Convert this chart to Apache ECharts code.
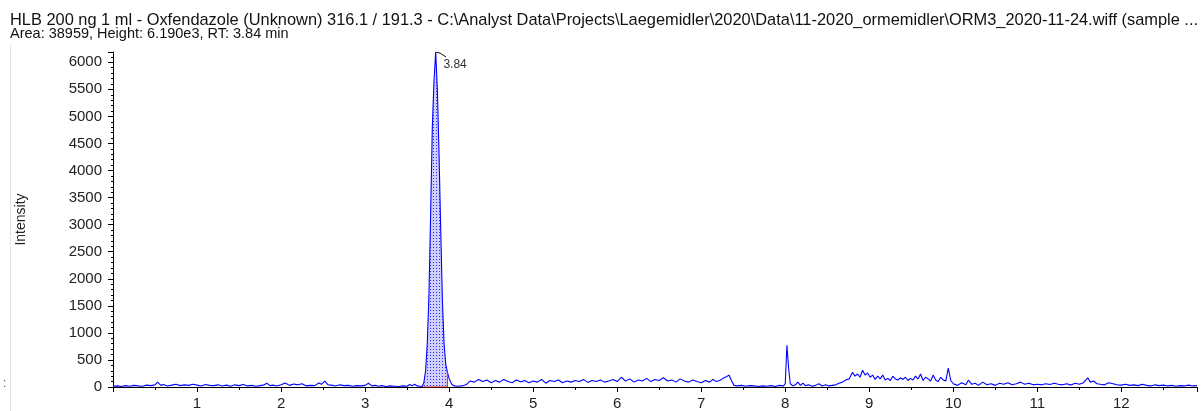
<!DOCTYPE html>
<html>
<head>
<meta charset="utf-8">
<script src="https://cdn.jsdelivr.net/npm/echarts@6/dist/echarts.min.js"></script>
<style>
  html, body { margin: 0; padding: 0; background: #fff; }
  #main { width: 1201px; height: 411px; }
</style>
</head>
<body>
<div id="main"></div>
<script>
// 标题
const titleLines = [
  'HLB 200 ng 1 ml - Oxfendazole (Unknown) 316.1 / 191.3 - C:\\Analyst Data\\Projects\\Laegemidler\\2020\\Data\\11-2020_ormemidler\\ORM3_2020-11-24.wiff (sample ...',
  'Area: 38959, Height: 6.190e3, RT: 3.84 min'
];
const yName = 'Intensity';
const rtLabel = '3.84';

// 色谱数据 [保留时间 min, 强度]
const trace = [
  [0.00, 15], [0.05, 20], [0.10, 10], [0.15, 25], [0.20, 15], [0.25, 30], [0.30, 20], [0.35, 15],
  [0.40, 35], [0.45, 25], [0.50, 40], [0.53, 90], [0.57, 30], [0.60, 45], [0.65, 20], [0.70, 35],
  [0.75, 50], [0.80, 25], [0.85, 40], [0.90, 30], [0.95, 50], [1.00, 35], [1.05, 20], [1.10, 45],
  [1.15, 30], [1.20, 25], [1.25, 40], [1.30, 20], [1.35, 35], [1.40, 15], [1.45, 40], [1.50, 25],
  [1.55, 45], [1.60, 20], [1.65, 30], [1.70, 15], [1.75, 25], [1.80, 40], [1.83, 70], [1.87, 25],
  [1.90, 35], [1.95, 20], [2.00, 40], [2.05, 75], [2.10, 30], [2.15, 55], [2.20, 40], [2.25, 60],
  [2.30, 20], [2.35, 30], [2.40, 25], [2.45, 75], [2.48, 50], [2.52, 110], [2.56, 40], [2.60, 35],
  [2.65, 20], [2.70, 40], [2.75, 25], [2.80, 30], [2.85, 15], [2.90, 25], [2.95, 20], [3.00, 30],
  [3.04, 70], [3.08, 20], [3.12, 30], [3.16, 15], [3.20, 25], [3.25, 10], [3.30, 20], [3.35, 15],
  [3.40, 10], [3.45, 20], [3.50, 15], [3.53, 45], [3.56, 25], [3.59, 50], [3.62, 20], [3.65, 15],
  [3.68, 10], [3.70, 90], [3.72, 300], [3.74, 800], [3.76, 1700], [3.78, 3200], [3.80, 4800],
  [3.82, 5650], [3.84, 6190], [3.86, 5500], [3.88, 4300], [3.90, 2900], [3.92, 1600], [3.94, 800],
  [3.96, 420], [3.98, 270], [4.00, 160], [4.03, 50], [4.06, 20], [4.10, 15], [4.15, 20], [4.20, 40],
  [4.25, 110], [4.30, 90], [4.35, 140], [4.40, 100], [4.45, 130], [4.50, 80], [4.55, 120], [4.60, 90],
  [4.65, 140], [4.70, 100], [4.75, 80], [4.80, 130], [4.85, 95], [4.90, 120], [4.95, 80], [5.00, 110],
  [5.05, 90], [5.10, 140], [5.15, 70], [5.20, 120], [5.25, 100], [5.30, 130], [5.35, 80], [5.40, 110],
  [5.45, 90], [5.50, 120], [5.55, 100], [5.60, 140], [5.65, 85], [5.70, 120], [5.75, 100], [5.80, 130],
  [5.85, 90], [5.90, 110], [5.95, 140], [6.00, 100], [6.05, 180], [6.10, 110], [6.15, 150], [6.20, 90],
  [6.25, 130], [6.30, 110], [6.35, 160], [6.40, 100], [6.45, 140], [6.50, 120], [6.55, 170], [6.60, 110],
  [6.65, 130], [6.70, 90], [6.75, 150], [6.80, 110], [6.85, 90], [6.90, 130], [6.95, 100], [7.00, 80],
  [7.05, 120], [7.10, 90], [7.14, 140], [7.18, 100], [7.22, 120], [7.26, 160], [7.30, 190], [7.33, 220],
  [7.36, 120], [7.39, 30], [7.43, 20], [7.48, 30], [7.53, 15], [7.58, 25], [7.63, 20], [7.68, 10],
  [7.73, 20], [7.78, 15], [7.83, 25], [7.88, 10], [7.93, 30], [7.98, 20], [8.00, 60], [8.02, 770],
  [8.04, 350], [8.06, 60], [8.09, 20], [8.12, 40], [8.15, 90], [8.18, 30], [8.21, 70], [8.24, 25],
  [8.28, 40], [8.32, 15], [8.36, 30], [8.40, 60], [8.44, 20], [8.48, 40], [8.52, 20], [8.56, 30],
  [8.60, 40], [8.64, 70], [8.68, 90], [8.72, 130], [8.76, 150], [8.80, 270], [8.83, 200], [8.86, 240],
  [8.89, 180], [8.92, 310], [8.95, 220], [8.98, 260], [9.01, 180], [9.04, 220], [9.07, 140], [9.10, 200],
  [9.13, 150], [9.16, 220], [9.19, 130], [9.22, 160], [9.25, 120], [9.28, 200], [9.31, 150], [9.34, 130],
  [9.37, 170], [9.40, 140], [9.43, 180], [9.46, 120], [9.49, 160], [9.52, 130], [9.55, 200], [9.58, 150],
  [9.61, 240], [9.64, 120], [9.67, 180], [9.70, 150], [9.73, 110], [9.76, 220], [9.79, 130], [9.82, 100],
  [9.85, 180], [9.88, 130], [9.91, 110], [9.94, 350], [9.97, 120], [10.00, 60], [10.05, 30], [10.10, 80],
  [10.15, 40], [10.18, 130], [10.22, 50], [10.26, 70], [10.30, 30], [10.35, 90], [10.40, 40], [10.45, 60],
  [10.50, 30], [10.55, 70], [10.60, 50], [10.65, 80], [10.70, 40], [10.75, 60], [10.80, 90], [10.85, 50],
  [10.90, 70], [10.95, 40], [11.00, 50], [11.05, 40], [11.10, 60], [11.15, 45], [11.20, 70], [11.25, 50],
  [11.30, 40], [11.35, 60], [11.40, 35], [11.45, 70], [11.50, 50], [11.55, 80], [11.60, 170], [11.63, 90],
  [11.67, 110], [11.71, 60], [11.75, 50], [11.80, 40], [11.85, 80], [11.90, 60], [11.95, 40], [12.00, 35],
  [12.05, 50], [12.10, 30], [12.15, 40], [12.20, 25], [12.25, 50], [12.30, 30], [12.35, 20], [12.40, 40],
  [12.45, 25], [12.50, 35], [12.55, 20], [12.60, 30], [12.65, 15], [12.70, 25], [12.75, 20], [12.80, 35],
  [12.85, 20], [12.90, 25]
];

// 积分区间和峰标注
const peakStart = 3.68;
const peakEnd = 3.98;
const peakEndHeight = 270;
const apexLeader = [[3.84, 6190], [3.893, 6169], [3.964, 6096]];

const xMax = 12.9;
const yMax = 6190;

// 峰下点阵填充
const dots = document.createElement('canvas');
dots.width = 3;
dots.height = 3;
const dctx = dots.getContext('2d');
dctx.fillStyle = '#d0d0ff';
dctx.fillRect(0, 0, 3, 3);
dctx.fillStyle = '#2a2aff';
dctx.fillRect(1, 1, 1, 1);

const peakArea = trace.filter(p => p[0] >= peakStart && p[0] <= peakEnd);

const font = 'Liberation Sans, Arial, sans-serif';

const option = {
  animation: false,
  title: [
    {
      text: titleLines[0],
      left: 10,
      top: 13,
      padding: 0,
      textStyle: { fontFamily: font, fontSize: 16.4, fontWeight: 'normal', color: '#111', lineHeight: 14 }
    },
    {
      text: titleLines[1],
      left: 10,
      top: 27,
      padding: 0,
      textStyle: { fontFamily: font, fontSize: 14.5, fontWeight: 'normal', color: '#111', lineHeight: 13 }
    }
  ],
  grid: {
    left: 113,
    right: 4,
    top: 52,
    bottom: 23
  },
  xAxis: {
    type: 'value',
    min: 0,
    max: xMax,
    interval: 1,
    axisLine: { show: true, lineStyle: { color: '#000', width: 1 } },
    axisTick: { show: true, length: 5, lineStyle: { color: '#000' } },
    minorTick: { show: true, splitNumber: 2, length: 3, lineStyle: { color: '#000' } },
    splitLine: { show: false },
    axisLabel: {
      margin: 9,
      fontFamily: font,
      fontSize: 15,
      color: '#222',
      showMaxLabel: false,
      formatter: v => (v > 0 && Number.isInteger(v)) ? String(v) : ''
    }
  },
  yAxis: {
    type: 'value',
    min: 0,
    max: yMax,
    interval: 500,
    name: yName,
    nameLocation: 'middle',
    nameGap: 85,
    nameTextStyle: { fontFamily: font, fontSize: 14, color: '#222' },
    axisLine: { show: true, lineStyle: { color: '#000', width: 1 } },
    axisTick: { show: true, length: 5, lineStyle: { color: '#000' } },
    minorTick: { show: true, splitNumber: 5, length: 2, lineStyle: { color: '#000' } },
    splitLine: { show: false },
    axisLabel: {
      margin: 11,
      fontFamily: font,
      fontSize: 15,
      color: '#222',
      showMaxLabel: false,
      formatter: v => v % 500 === 0 ? String(v) : ''
    }
  },
  graphic: [
    {
      type: 'line',
      shape: { x1: 10.5, y1: 45, x2: 10.5, y2: 411 },
      style: { stroke: '#e4e4e4', lineWidth: 1 },
      silent: true
    },
    {
      type: 'text',
      left: 3,
      top: 378,
      style: { text: ':', fontFamily: font, fontSize: 12, fill: '#555' }
    }
  ],
  series: [
    {
      // 积分面积
      type: 'line',
      data: peakArea,
      showSymbol: false,
      lineStyle: { width: 0 },
      areaStyle: { color: { image: dots, repeat: 'repeat' }, opacity: 1 },
      z: 1
    },
    {
      // 积分基线
      type: 'line',
      data: [[peakStart, 0], [peakEnd, 0], [peakEnd, peakEndHeight]],
      showSymbol: false,
      lineStyle: { color: '#ff2a2a', width: 1.2 },
      z: 4
    },
    {
      type: 'line',
      data: trace,
      showSymbol: false,
      lineStyle: { color: '#0000ff', width: 1.1 },
      z: 3
    },
    {
      // 峰顶标注
      type: 'line',
      data: apexLeader,
      showSymbol: false,
      lineStyle: { color: '#111', width: 1 },
      z: 5,
      markPoint: {
        symbol: 'circle',
        symbolSize: 1,
        itemStyle: { color: 'rgba(0,0,0,0)' },
        data: [{ coord: apexLeader[apexLeader.length - 1] }],
        label: {
          show: true,
          formatter: rtLabel,
          position: 'inside',
          offset: [9, 8],
          fontFamily: font,
          fontSize: 12,
          color: '#333'
        }
      }
    }
  ]
};

const myChart = echarts.init(document.getElementById('main'));
myChart.setOption(option);
</script>
</body>
</html>
